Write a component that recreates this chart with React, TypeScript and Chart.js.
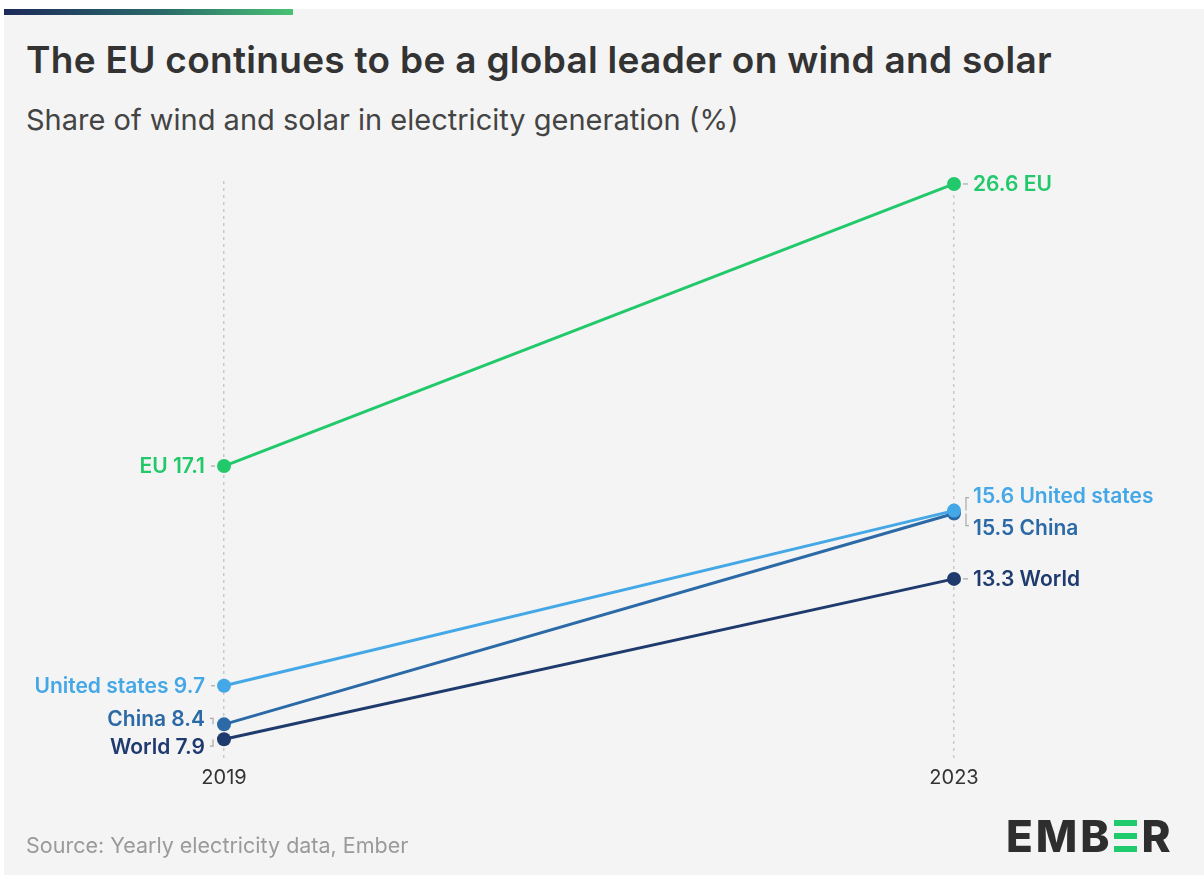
import React, { useEffect, useRef } from "react";
import { Chart, registerables } from "chart.js";

Chart.register(...registerables);

const years = [2019, 2023];
const seriesNames = ["EU", "United states", "China", "World"];
const euValues = [17.1, 26.6];
const usValues = [9.7, 15.6];
const chinaValues = [8.4, 15.5];
const worldValues = [7.9, 13.3];

const seriesValues = [euValues, usValues, chinaValues, worldValues];
const seriesColors = ["#22c96b", "#44a7e6", "#2b6aa6", "#1f3b6e"];
// label vertical nudges in px: [left, right]
const labelNudges = [
  [0, 0],
  [0, -15],
  [-6, 14],
  [7, 0],
];

const FONT = "Inter, 'Noto Sans', sans-serif";

const labelPlugin = {
  id: "endLabels",
  afterDatasetsDraw(chart: any) {
    const ctx = chart.ctx;
    ctx.save();
    chart.data.datasets.forEach((ds: any, i: number) => {
      const meta = chart.getDatasetMeta(i);
      const vals = seriesValues[i];
      const name = seriesNames[i];
      meta.data.forEach((pt: any, j: number) => {
        const dy = labelNudges[i][j];
        const ly = pt.y + dy;
        ctx.font = `600 21px ${FONT}`;
        ctx.fillStyle = seriesColors[i];
        ctx.textBaseline = "middle";
        ctx.strokeStyle = "#a8a8a8";
        ctx.lineWidth = 1.2;
        if (j === 0) {
          ctx.textAlign = "right";
          ctx.fillText(`${name} ${vals[j]}`, pt.x - 19, ly + 1);
          ctx.beginPath();
          if (dy === 0) {
            ctx.moveTo(pt.x - 13, pt.y);
            ctx.lineTo(pt.x - 9, pt.y);
          } else {
            ctx.moveTo(pt.x - 14, ly);
            ctx.lineTo(pt.x - 11, ly);
            ctx.lineTo(pt.x - 11, pt.y);
          }
          ctx.stroke();
        } else {
          ctx.textAlign = "left";
          ctx.fillText(`${vals[j]} ${name}`, pt.x + 19, ly + 1);
          ctx.beginPath();
          if (dy === 0) {
            ctx.moveTo(pt.x + 9, pt.y);
            ctx.lineTo(pt.x + 14, pt.y);
          } else {
            ctx.moveTo(pt.x + 15, ly + (dy < 0 ? 2 : -2));
            ctx.lineTo(pt.x + 12, ly + (dy < 0 ? 2 : -2));
            ctx.lineTo(pt.x + 12, pt.y);
          }
          ctx.stroke();
        }
      });
    });
    ctx.restore();
  },
};

function EmberLogo() {
  const letter: React.CSSProperties = {
    fontFamily: FONT,
    fontWeight: 800,
    fontSize: 44,
    color: "#2e2e2e",
    lineHeight: "44px",
    letterSpacing: 3,
  };
  const bar: React.CSSProperties = {
    width: 23,
    height: 6,
    background: "#1fcb6d",
  };
  return (
    <div
      style={{
        position: "absolute",
        left: 1006,
        top: 814,
        display: "flex",
        alignItems: "center",
      }}
    >
      <span style={letter}>EMB</span>
      <div
        style={{
          display: "flex",
          flexDirection: "column",
          justifyContent: "space-between",
          height: 32,
          marginRight: 5,
          marginLeft: 1,
        }}
      >
        <div style={bar} />
        <div style={bar} />
        <div style={bar} />
      </div>
      <span style={letter}>R</span>
    </div>
  );
}

export default function App() {
  const canvasRef = useRef<HTMLCanvasElement | null>(null);

  useEffect(() => {
    if (!canvasRef.current) return;
    const chart = new Chart(canvasRef.current, {
      type: "line",
      data: {
        datasets: seriesNames.map((name, i) => ({
          label: name,
          data: years.map((y, k) => ({ x: y, y: seriesValues[i][k] })),
          borderColor: seriesColors[i],
          backgroundColor: seriesColors[i],
          pointBackgroundColor: seriesColors[i],
          pointBorderWidth: 0,
          pointRadius: 7,
          borderWidth: 3,
          clip: false as any,
        })),
      },
      options: {
        animation: false,
        responsive: false,
        layout: { padding: { left: 224, right: 250, top: 181, bottom: 79 } },
        plugins: {
          legend: { display: false },
          tooltip: { enabled: false },
        },
        scales: {
          x: {
            type: "linear",
            min: 2019,
            max: 2023,
            afterBuildTicks: (axis: any) => {
              axis.ticks = years.map((v) => ({ value: v }));
            },
            ticks: {
              callback: (v: any) => String(v),
              font: { family: FONT, size: 20 },
              color: "#333333",
              padding: 6,
              maxRotation: 0,
            },
            grid: {
              color: "#c9c9c9",
              lineWidth: 1.5,
              drawTicks: false,
            },
            border: { display: false, dash: [3, 4] },
          },
          y: {
            display: false,
            min: 7.2,
            max: 26.7,
          },
        },
      },
      plugins: [labelPlugin],
    } as any);
    return () => chart.destroy();
  }, []);

  return (
    <div
      style={{
        position: "absolute",
        left: 0,
        top: 0,
        width: 1204,
        height: 875,
        background: "#ffffff",
        overflow: "hidden",
      }}
    >
      <div
        style={{
          position: "absolute",
          left: 4,
          top: 9,
          width: 1200,
          height: 866,
          background: "#f4f4f4",
        }}
      />
      <div
        style={{
          position: "absolute",
          left: 4,
          top: 9,
          width: 289,
          height: 6,
          background: "linear-gradient(90deg, #1d2b5a 0%, #2a6a6a 55%, #48c274 100%)",
        }}
      />
      <div
        style={{
          position: "absolute",
          left: 26,
          top: 36,
          fontFamily: FONT,
          fontWeight: 600,
          fontSize: 37,
          letterSpacing: 0.3,
          color: "#333333",
          whiteSpace: "nowrap",
          lineHeight: "48px",
        }}
      >
        The EU continues to be a global leader on wind and solar
      </div>
      <div
        style={{
          position: "absolute",
          left: 26,
          top: 101,
          fontFamily: FONT,
          fontWeight: 400,
          fontSize: 29,
          color: "#444444",
          whiteSpace: "nowrap",
          lineHeight: "38px",
        }}
      >
        Share of wind and solar in electricity generation (%)
      </div>
      <canvas
        ref={canvasRef}
        width={1204}
        height={875}
        style={{ position: "absolute", left: 0, top: 0, width: 1204, height: 875 }}
      />
      <div
        style={{
          position: "absolute",
          left: 26,
          top: 830,
          fontFamily: FONT,
          fontWeight: 400,
          fontSize: 21.5,
          color: "#9a9a9a",
          whiteSpace: "nowrap",
          lineHeight: "30px",
        }}
      >
        Source: Yearly electricity data, Ember
      </div>
      <EmberLogo />
    </div>
  );
}
